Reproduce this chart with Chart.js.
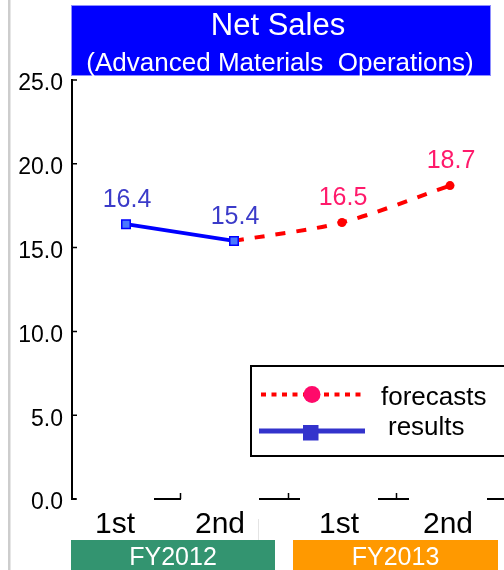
<!DOCTYPE html>
<html>
<head>
<meta charset="utf-8">
<script src="https://cdn.jsdelivr.net/npm/chart.js@4.4.1/dist/chart.umd.min.js"></script>
<style>
  html, body { margin: 0; padding: 0; background: #fff; }
  canvas { display: block; }
</style>
</head>
<body>
<canvas id="c" width="504" height="570"></canvas>
<script>
// Half-year periods and the two fiscal years they belong to
const halfYears = ['1st', '2nd', '1st', '2nd'];
const fiscalYears = ['FY2012', 'FY2013'];
const fiscalYearSpans = [[0, 1], [2, 3]];

// Net sales (billion yen): actual results and forecasts
const results = [16.4, 15.4, null, null];
const forecasts = [null, 15.4, 16.5, 18.7];

// Value axis
const yMin = 0;
const yMax = 25;
const yStep = 5;

const titleMain = 'Net Sales';
const titleSub = '(Advanced Materials  Operations)';

const FONT = "'Liberation Sans', Arial, Helvetica, sans-serif";
const AXIS_BOTTOM_SPACE = 71;
const AXIS_LEFT_SPACE = 72;

// Small horizontal nudges for the period labels under the axis
const periodLabelNudge = [-11, -14, -3, -2];

function font(size) { return size + 'px ' + FONT; }

const decorations = {
  id: 'decorations',
  beforeDraw(chart) {
    const { ctx, width, height } = chart;
    ctx.save();
    ctx.fillStyle = '#ffffff';
    ctx.fillRect(0, 0, width, height);
    // page edge rule on the left
    ctx.fillStyle = '#cdcdcd';
    ctx.fillRect(8, 0, 2.5, height);
    ctx.restore();
  },
  afterDatasetsDraw(chart) {
    // value labels above the marked points
    const { ctx } = chart;
    ctx.save();
    ctx.font = font(25);
    ctx.textAlign = 'center';
    ctx.textBaseline = 'middle';
    chart.data.datasets.forEach((ds, di) => {
      const meta = chart.getDatasetMeta(di);
      meta.data.forEach((pt, i) => {
        const v = ds.data[i];
        const r = Array.isArray(ds.pointRadius) ? ds.pointRadius[i] : ds.pointRadius;
        if (v == null || !r) return;
        ctx.fillStyle = ds.valueLabelColor;
        ctx.fillText(v.toFixed(1), pt.x + 1, pt.y - 24);
      });
    });
    ctx.restore();
  },
  afterDraw(chart) {
    const { ctx, chartArea } = chart;
    const xs = chart.scales.x;
    const ys = chart.scales.y;
    const step = xs.getPixelForValue(1) - xs.getPixelForValue(0);
    const base = chartArea.bottom;
    ctx.save();

    // title banner
    ctx.fillStyle = '#0000ff';
    ctx.fillRect(71, 5, 420, 71);
    ctx.strokeStyle = '#8f8fff';
    ctx.lineWidth = 1;
    ctx.strokeRect(71.5, 5.5, 419, 70);
    ctx.fillStyle = '#ffffff';
    ctx.textAlign = 'center';
    ctx.textBaseline = 'alphabetic';
    ctx.font = font(31);
    ctx.fillText(titleMain, 278, 35);
    ctx.font = font(26);
    ctx.fillText(titleSub, 280, 71);

    // category axis line, interrupted behind each period label
    ctx.strokeStyle = '#000';
    ctx.lineWidth = 2;
    ctx.beginPath();
    ctx.moveTo(chartArea.left, base);
    ctx.lineTo(chartArea.right, base);
    ctx.stroke();
    const labelCenters = halfYears.map((_, i) => xs.getPixelForValue(i) + periodLabelNudge[i]);
    ctx.fillStyle = '#ffffff';
    labelCenters.forEach(c => ctx.fillRect(c - 39, base - 3, 78, 44));

    // upward tick marks at category boundaries
    ctx.beginPath();
    for (let i = 1; i < halfYears.length; i++) {
      const x = Math.round(xs.getPixelForValue(i) - step / 2) + 0.5;
      ctx.moveTo(x, base);
      ctx.lineTo(x, base - 6);
    }
    ctx.lineWidth = 1.5;
    ctx.stroke();

    // inward tick marks on the value axis
    ctx.beginPath();
    for (let v = yMin; v <= yMax; v += yStep) {
      const y = ys.getPixelForValue(v);
      ctx.moveTo(chartArea.left, y);
      ctx.lineTo(chartArea.left + 5, y);
    }
    ctx.lineWidth = 1.5;
    ctx.stroke();

    // period labels
    ctx.fillStyle = '#000';
    ctx.font = font(30);
    ctx.textAlign = 'center';
    ctx.textBaseline = 'alphabetic';
    halfYears.forEach((t, i) => ctx.fillText(t, labelCenters[i], 533));

    // faint divider between the fiscal years
    ctx.fillStyle = '#e4e4e4';
    ctx.fillRect(258, 519, 1, 21);

    // fiscal year bands
    const bandColors = ['#339470', '#ff9900'];
    const bandInsets = [[-1, 13], [5, 6]];
    ctx.font = font(25);
    fiscalYears.forEach((fy, k) => {
      const [a, b] = fiscalYearSpans[k];
      const x0 = xs.getPixelForValue(a) - step / 2 + bandInsets[k][0];
      const x1 = xs.getPixelForValue(b) + step / 2 - bandInsets[k][1];
      ctx.fillStyle = bandColors[k];
      ctx.fillRect(x0, 540, x1 - x0, 32);
      ctx.fillStyle = '#ffffff';
      ctx.fillText(fy, (x0 + x1) / 2, 565);
    });

    // legend
    const fc = chart.data.datasets[1];
    const rs = chart.data.datasets[0];
    ctx.strokeStyle = '#000';
    ctx.lineWidth = 2;
    ctx.strokeRect(251, 366, 270, 90);

    ctx.strokeStyle = '#ff0000';
    ctx.lineWidth = 4;
    ctx.setLineDash([5, 5.5]);
    ctx.beginPath();
    ctx.moveTo(261, 394.5);
    ctx.lineTo(363, 394.5);
    ctx.stroke();
    ctx.setLineDash([]);
    ctx.fillStyle = '#ff0a6a';
    ctx.beginPath();
    ctx.arc(312, 394.5, 8.5, 0, Math.PI * 2);
    ctx.fill();

    ctx.strokeStyle = '#3333cc';
    ctx.lineWidth = 5;
    ctx.beginPath();
    ctx.moveTo(259, 431);
    ctx.lineTo(365, 431);
    ctx.stroke();
    ctx.fillStyle = '#3333cc';
    ctx.fillRect(303, 425, 15.5, 15.5);

    ctx.fillStyle = '#000';
    ctx.font = font(26);
    ctx.textAlign = 'left';
    ctx.fillText(fc.label, 381, 405);
    ctx.fillText(rs.label, 388, 435);

    ctx.restore();
  }
};

new Chart(document.getElementById('c'), {
  type: 'line',
  data: {
    labels: halfYears,
    datasets: [
      {
        label: 'results',
        data: results,
        order: 0,
        borderColor: '#0000ff',
        borderWidth: 4,
        pointStyle: 'rect',
        pointRadius: 6,
        pointBackgroundColor: '#4a78ff',
        pointBorderColor: '#0000ff',
        pointBorderWidth: 1.5,
        valueLabelColor: '#3b3bc9',
        tension: 0
      },
      {
        label: 'forecasts',
        data: forecasts,
        order: 1,
        borderColor: '#ff0000',
        borderWidth: 4,
        borderDash: [10, 11],
        pointRadius: [0, 0, 4.5, 4.5],
        pointBackgroundColor: '#ff0000',
        pointBorderWidth: 0,
        valueLabelColor: '#ff1a6b',
        tension: 0.3
      }
    ]
  },
  options: {
    responsive: false,
    animation: false,
    devicePixelRatio: 1,
    clip: false,
    layout: { autoPadding: false, padding: { top: 80, left: 0, right: 0, bottom: 0 } },
    plugins: {
      legend: { display: false },
      title: { display: false },
      tooltip: { enabled: false }
    },
    scales: {
      x: {
        type: 'category',
        offset: true,
        grid: { display: false, drawTicks: false },
        border: { display: false },
        ticks: { display: false },
        afterFit(s) { s.height = AXIS_BOTTOM_SPACE; }
      },
      y: {
        min: yMin,
        max: yMax,
        grid: { display: false, drawTicks: false },
        border: { display: true, color: '#000', width: 2 },
        ticks: {
          stepSize: yStep,
          padding: 9,
          labelOffset: 4,
          color: '#000',
          font: { family: FONT, size: 23 },
          callback: v => Number(v).toFixed(1)
        },
        afterFit(s) { s.width = AXIS_LEFT_SPACE; }
      }
    }
  },
  plugins: [decorations]
});
</script>
</body>
</html>
